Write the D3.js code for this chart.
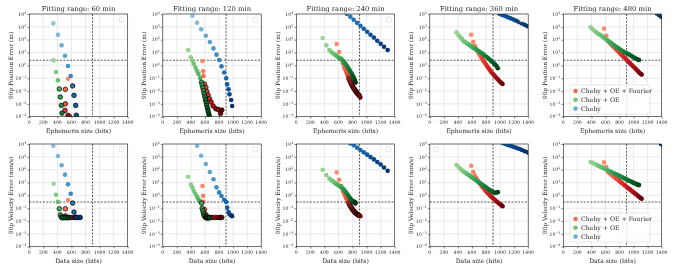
<!DOCTYPE html>
<html>
<head>
<meta charset="utf-8">
<script src="https://cdn.jsdelivr.net/npm/d3@7"></script>
<style>
  body { margin: 0; background: #fff; }
  svg { will-change: transform; }
  text { font-family: "DejaVu Serif", "Liberation Serif", serif; fill: #262626; }
</style>
</head>
<body>
<div id="chart"></div>
<script>
// fitting ranges (one column per range)
var rangesMin = [60, 120, 240, 360, 480];

// requirement lines
var sizeReq = 900, posReq = 2.5, velReq = 0.3;

var xTicks = [0, 200, 400, 600, 800, 1000, 1200, 1400];
var yExps = [-4, -3, -2, -1, 0, 1, 2, 3, 4];

// Cheby only
var chebyBits = [
  [342, 408, 460, 508, 551, 589, 617, 636, 660, 669, 700, 725],
  [422, 488, 545, 612, 669, 721, 764, 802, 835, 873, 902, 916, 935, 949, 973, 987],
  [720, 768, 816, 864, 912, 960, 1008, 1056, 1104, 1152, 1200, 1248, 1300],
  [990, 1030, 1070, 1110, 1150, 1190, 1230, 1270, 1310, 1350, 1390],
  [1330, 1360, 1390, 1420]
];
var chebyPos = [
  [1860, 245, 36, 5.6, 0.89, 0.15, 0.025, 0.0046, 7.6e-4, 1.3e-4, 3e-5, 8e-6],
  [6900, 2100, 650, 200, 66, 21, 6.8, 2.6, 0.83, 0.28, 0.098, 0.033, 0.0135, 0.0055, 0.002, 6.8e-4],
  [10000, 6000, 3550, 2040, 1200, 710, 417, 245, 145, 83, 48, 28, 15.8],
  [10500, 8500, 6900, 5600, 4600, 3700, 2950, 2340, 1860, 1450, 1120],
  [11200, 8500, 6300, 4800]
];
var chebyVel = [
  [6900, 1150, 220, 41, 7.2, 1.35, 0.25, 0.05, 0.02, 0.019, 0.019, 0.019],
  [25000, 6900, 1230, 275, 66, 17.8, 4.2, 1.7, 0.89, 0.45, 0.3, 0.11, 0.05, 0.033, 0.0275, 0.024],
  [15800, 11200, 7900, 5200, 3400, 2240, 1480, 955, 630, 400, 250, 148, 83],
  [15800, 12600, 10000, 8500, 7200, 6000, 5000, 4200, 3400, 2750, 2240],
  [25000, 15800, 10000, 7100]
];

// Cheby + OE
var oeBits = [
  [346, 380, 408, 427, 441, 456, 465, 490, 520, 555],
  [361, 399, 422, 441, 465, 489, 508, 532, 551, 560, 569, 579, 588, 598, 607, 617, 626, 636, 645, 655, 664],
  [374, 427, 470, 495, 520, 545, 565, 585, 605, 623, 640, 656, 672, 688, 703, 718, 733, 748, 763, 777, 791, 805, 818, 830, 839],
  [380, 410, 437, 460, 484, 505, 527, 548, 570, 591, 612, 634, 655, 676, 698, 719, 740, 762, 783, 804, 826, 847, 869, 890, 911, 930, 949, 968],
  [389, 415, 441, 465, 489, 510, 532, 553, 574, 596, 617, 638, 660, 681, 702, 724, 745, 766, 788, 809, 830, 852, 873, 894, 916, 937, 959, 980, 1001, 1022, 1044, 1060, 1077]
];
var oePos = [
  [2.45, 0.3, 0.068, 0.0145, 0.0034, 7.6e-4, 1.9e-4, 5e-5, 1.6e-5, 6e-6],
  [15.5, 4.2, 2.3, 1.26, 0.66, 0.36, 0.21, 0.102, 0.048, 0.03, 0.018, 0.0107, 0.0062, 0.0036, 0.0021, 0.0013, 7.6e-4, 4.5e-4, 2.8e-4, 1.6e-4, 1.0e-4],
  [135, 36, 15.5, 11.2, 8.7, 6.9, 5.8, 4.8, 4.1, 3.5, 2.95, 2.5, 2.0, 1.62, 1.23, 0.93, 0.69, 0.51, 0.38, 0.275, 0.21, 0.15, 0.11, 0.079, 0.048],
  [370, 224, 151, 105, 74, 62, 51, 43, 36, 30, 25, 21, 17.8, 14.8, 12.3, 10.5, 8.7, 7.1, 5.6, 4.6, 3.7, 2.95, 2.3, 1.82, 1.45, 1.15, 0.89, 0.59],
  [910, 660, 500, 400, 310, 263, 219, 182, 151, 123, 100, 81, 66, 54, 44, 36, 29.5, 24.5, 20.4, 17, 14.1, 12, 10.5, 9.1, 7.9, 6.8, 5.75, 4.9, 4.2, 3.6, 3.16, 2.8, 2.6]
];
var oeVel = [
  [8.1, 1.1, 0.31, 0.09, 0.03, 0.02, 0.018, 0.018, 0.018, 0.018],
  [28, 7.1, 4.0, 2.2, 1.26, 0.76, 0.47, 0.35, 0.25, 0.1, 0.063, 0.04, 0.028, 0.022, 0.019, 0.018, 0.018, 0.018, 0.018, 0.018, 0.018],
  [100, 38, 20, 15.5, 12.3, 10, 7.9, 6.8, 5.75, 5.0, 4.3, 3.6, 3.0, 2.4, 1.82, 1.38, 1.07, 0.81, 0.63, 0.5, 0.41, 0.35, 0.32, 0.31, 0.25],
  [230, 158, 112, 87, 69, 58, 49, 40, 33, 27, 22, 18.6, 15.5, 12.6, 10.2, 8.7, 7.2, 5.9, 4.8, 4.0, 3.3, 2.75, 2.3, 1.95, 1.62, 1.58, 1.66, 1.78],
  [400, 340, 290, 250, 214, 190, 166, 145, 129, 112, 98, 87, 76, 66, 58, 51, 45, 40, 35, 30, 27, 23.4, 20.4, 18.2, 15.8, 13.8, 12.3, 10.7, 9.3, 8.3, 7.2, 6.8, 6.3]
];

// Cheby + OE + Fourier
var fourierBits = [
  [551, 513, 513, 508, 551, 574, 610, 650],
  [565, 574, 579, 593, 612, 626, 645, 664, 688, 716, 754, 787, 821, 840],
  [575, 609, 638, 662, 680, 695, 710, 723, 736, 748, 760, 772, 784, 796, 808, 820, 832, 844, 856, 868, 880, 892, 903, 911],
  [589, 617, 640, 660, 680, 700, 720, 740, 760, 780, 800, 820, 840, 860, 880, 900, 920, 940, 960, 980, 1000, 1020, 1035],
  [579, 612, 640, 662, 684, 706, 728, 750, 772, 794, 816, 838, 860, 882, 904, 926, 948, 970, 992, 1014, 1036, 1058, 1080, 1100, 1115]
];
var fourierPos = [
  [0.091, 0.0135, 1.0e-3, 3.1e-4, 1.3e-4, 1.0e-4, 4e-5, 2e-5],
  [2.2, 0.34, 0.148, 0.035, 0.0195, 0.0093, 0.0049, 0.0025, 0.00138, 6.8e-4, 4.2e-4, 3.7e-4, 1.8e-4, 3.3e-4],
  [46, 11, 3.3, 1.45, 0.79, 0.5, 0.32, 0.21, 0.14, 0.095, 0.068, 0.048, 0.035, 0.026, 0.02, 0.016, 0.0126, 0.01, 0.0081, 0.0066, 0.0055, 0.0046, 0.0038, 0.0032],
  [245, 66, 32, 20, 12.6, 8.5, 5.6, 3.6, 2.4, 1.66, 1.15, 0.79, 0.56, 0.4, 0.28, 0.21, 0.158, 0.117, 0.089, 0.068, 0.052, 0.042, 0.035],
  [720, 204, 72, 54, 41, 31, 23.4, 17.8, 13.5, 10.2, 7.8, 5.9, 4.5, 3.4, 2.6, 1.95, 1.48, 1.12, 0.85, 0.65, 0.49, 0.37, 0.28, 0.22, 0.19]
];
var fourierVel = [
  [0.43, 0.09, 0.025, 0.02, 0.019, 0.019, 0.019, 0.019],
  [5.4, 0.93, 0.32, 0.079, 0.032, 0.021, 0.019, 0.019, 0.019, 0.019, 0.019, 0.019, 0.019, 0.019],
  [62, 16.6, 5.4, 2.2, 1.32, 0.89, 0.63, 0.45, 0.33, 0.24, 0.18, 0.138, 0.107, 0.085, 0.069, 0.058, 0.049, 0.043, 0.037, 0.033, 0.03, 0.027, 0.025, 0.024],
  [204, 66, 35, 22, 15, 10.5, 7.4, 5.2, 3.8, 2.8, 2.1, 1.58, 1.2, 0.93, 0.74, 0.59, 0.47, 0.37, 0.3, 0.24, 0.2, 0.166, 0.141],
  [370, 162, 63, 50, 41, 32, 26, 21, 17, 13.5, 10.7, 8.7, 6.9, 5.6, 4.5, 3.6, 2.9, 2.3, 1.86, 1.48, 1.2, 0.95, 0.76, 0.63, 0.54]
];

// set the dimensions of each panel
var W = 674, H = 270;
var panelW = 98.4, panelH = 102.7, left0 = 29.3, stepX = 133.5;
var rowTop = [14, 144];

var svg = d3.select("#chart").append("svg").attr("width", W).attr("height", H);

var x = d3.scaleLinear().domain([0, 1400]).range([0, panelW]);
var y = d3.scaleLog().domain([1e-4, 1e4]).range([panelH, 0]);

var methods = [
  { name: "Cheby + OE + Fourier", bits: fourierBits, pos: fourierPos, vel: fourierVel, cmap: d3.interpolateReds },
  { name: "Cheby + OE", bits: oeBits, pos: oePos, vel: oeVel, cmap: d3.interpolateGreens },
  { name: "Cheby", bits: chebyBits, pos: chebyPos, vel: chebyVel, cmap: d3.interpolateBlues }
];
// colour start on the colormap for the cheby series (higher degrees only at long ranges)
var blueStart = [0.4, 0.4, 0.7, 0.85, 0.95];

var rows = [
  { key: "pos", ylabel: "90p Position Error (m)", xlabel: "Ephemeris size (bits)", req: posReq },
  { key: "vel", ylabel: "90p Velocity Error (mm/s)", xlabel: "Data size (bits)", req: velReq }
];

rows.forEach(function (row, r) {
  rangesMin.forEach(function (rng, p) {
    var g = svg.append("g")
      .attr("transform", "translate(" + (left0 + p * stepX) + "," + rowTop[r] + ")");

    g.append("clipPath").attr("id", "clip" + r + p)
      .append("rect").attr("width", panelW).attr("height", panelH);

    // grid
    g.selectAll(".gx").data(xTicks).enter().append("line")
      .attr("x1", function (d) { return x(d); }).attr("x2", function (d) { return x(d); })
      .attr("y1", 0).attr("y2", panelH)
      .attr("stroke", "#dcdcdc").attr("stroke-width", 0.6);
    g.selectAll(".gy").data(yExps).enter().append("line")
      .attr("y1", function (d) { return y(Math.pow(10, d)); }).attr("y2", function (d) { return y(Math.pow(10, d)); })
      .attr("x1", 0).attr("x2", panelW)
      .attr("stroke", "#dcdcdc").attr("stroke-width", 0.6);

    // axes
    g.append("g").attr("transform", "translate(0," + panelH + ")")
      .call(d3.axisBottom(x).tickValues(xTicks).tickSize(1.8).tickFormat(""))
      .call(function (a) { a.select(".domain").remove(); a.selectAll("line").attr("stroke-width", 0.5); });
    g.append("g")
      .call(d3.axisLeft(y).tickValues(yExps.map(function (e) { return Math.pow(10, e); })).tickSize(1.8).tickFormat(""))
      .call(function (a) { a.select(".domain").remove(); a.selectAll("line").attr("stroke-width", 0.5); });

    g.selectAll(".xl").data(xTicks).enter().append("text")
      .attr("x", function (d) { return x(d); }).attr("y", panelH + 7.3)
      .attr("text-anchor", "middle").style("font-size", "4.6px")
      .text(function (d) { return d; });

    var yl = g.selectAll(".yl").data(yExps).enter().append("text")
      .attr("x", -3).attr("y", function (d) { return y(Math.pow(10, d)) + 1.7; })
      .attr("text-anchor", "end").style("font-size", "4.6px");
    yl.append("tspan").text("10");
    yl.append("tspan").attr("dy", -2).style("font-size", "3.3px")
      .text(function (d) { return d < 0 ? "\u2212" + (-d) : d; });

    // requirement lines
    g.append("line")
      .attr("x1", x(sizeReq)).attr("x2", x(sizeReq)).attr("y1", 0).attr("y2", panelH)
      .attr("stroke", "#111").attr("stroke-width", 0.7).attr("stroke-dasharray", "2,1.4");
    g.append("line")
      .attr("x1", 0).attr("x2", panelW).attr("y1", y(row.req)).attr("y2", y(row.req))
      .attr("stroke", "#111").attr("stroke-width", 0.7).attr("stroke-dasharray", "2,1.4");

    // points
    var pts = g.append("g").attr("clip-path", "url(#clip" + r + p + ")");
    methods.forEach(function (m, k) {
      var bits = m.bits[p], vals = m[row.key][p], n = bits.length;
      var t0 = k === 2 ? blueStart[p] : 0.4;
      var data = bits.map(function (b, i) {
        return {
          b: b, v: vals[i],
          t: n > 1 ? t0 + (1 - t0) * i / (n - 1) : 1,
          ok: b < sizeReq && m.pos[p][i] < posReq && m.vel[p][i] < velReq
        };
      });
      pts.selectAll(null).data(data).enter().append("circle")
        .attr("cx", function (d) { return x(d.b); })
        .attr("cy", function (d) { return y(d.v); })
        .attr("r", 2.3)
        .attr("fill", function (d) { return m.cmap(d.t); })
        .attr("stroke", function (d) { return d.ok ? "#000" : "none"; })
        .attr("stroke-width", 0.7);
    });

    // frame
    g.append("rect").attr("width", panelW).attr("height", panelH)
      .attr("fill", "none").attr("stroke", "#222").attr("stroke-width", 0.6);

    // legend
    if (p === 4) {
      var lg = g.append("g").attr("transform", "translate(6.7," + (r === 0 ? 71 : 69) + ")");
      lg.append("rect").attr("width", 80).attr("height", 29).attr("rx", 1.5)
        .attr("fill", "#fff").attr("fill-opacity", 0.85).attr("stroke", "#ccc").attr("stroke-width", 0.5);
      methods.forEach(function (m, k) {
        lg.append("circle").attr("cx", 5.5).attr("cy", 6 + k * 8.8).attr("r", 2.3)
          .attr("fill", m.cmap(0.5));
        lg.append("text").attr("x", 11).attr("y", 8.1 + k * 8.8)
          .style("font-size", "6.2px").text(m.name);
      });
    } else {
      var bx = (r === 1 && p === 3) ? 4 : panelW - 8.4;
      g.append("rect").attr("x", bx).attr("y", 3.2).attr("width", 4.6).attr("height", 4.6).attr("rx", 0.8)
        .attr("fill", "#fff").attr("fill-opacity", 0.85).attr("stroke", "#ccc").attr("stroke-width", 0.5);
    }

    // titles and labels
    if (r === 0) {
      g.append("text").attr("x", panelW / 2).attr("y", -2.8)
        .attr("text-anchor", "middle").style("font-size", "6.8px")
        .text("Fitting range: " + rng + " min");
    }
    g.append("text").attr("x", panelW / 2).attr("y", panelH + 16.3)
      .attr("text-anchor", "middle").style("font-size", "6.1px")
      .text(row.xlabel);
    g.append("text")
      .attr("transform", "translate(-16.5," + panelH / 2 + ") rotate(-90)")
      .attr("text-anchor", "middle").style("font-size", "5.9px")
      .text(row.ylabel);
  });
});
</script>
</body>
</html>
